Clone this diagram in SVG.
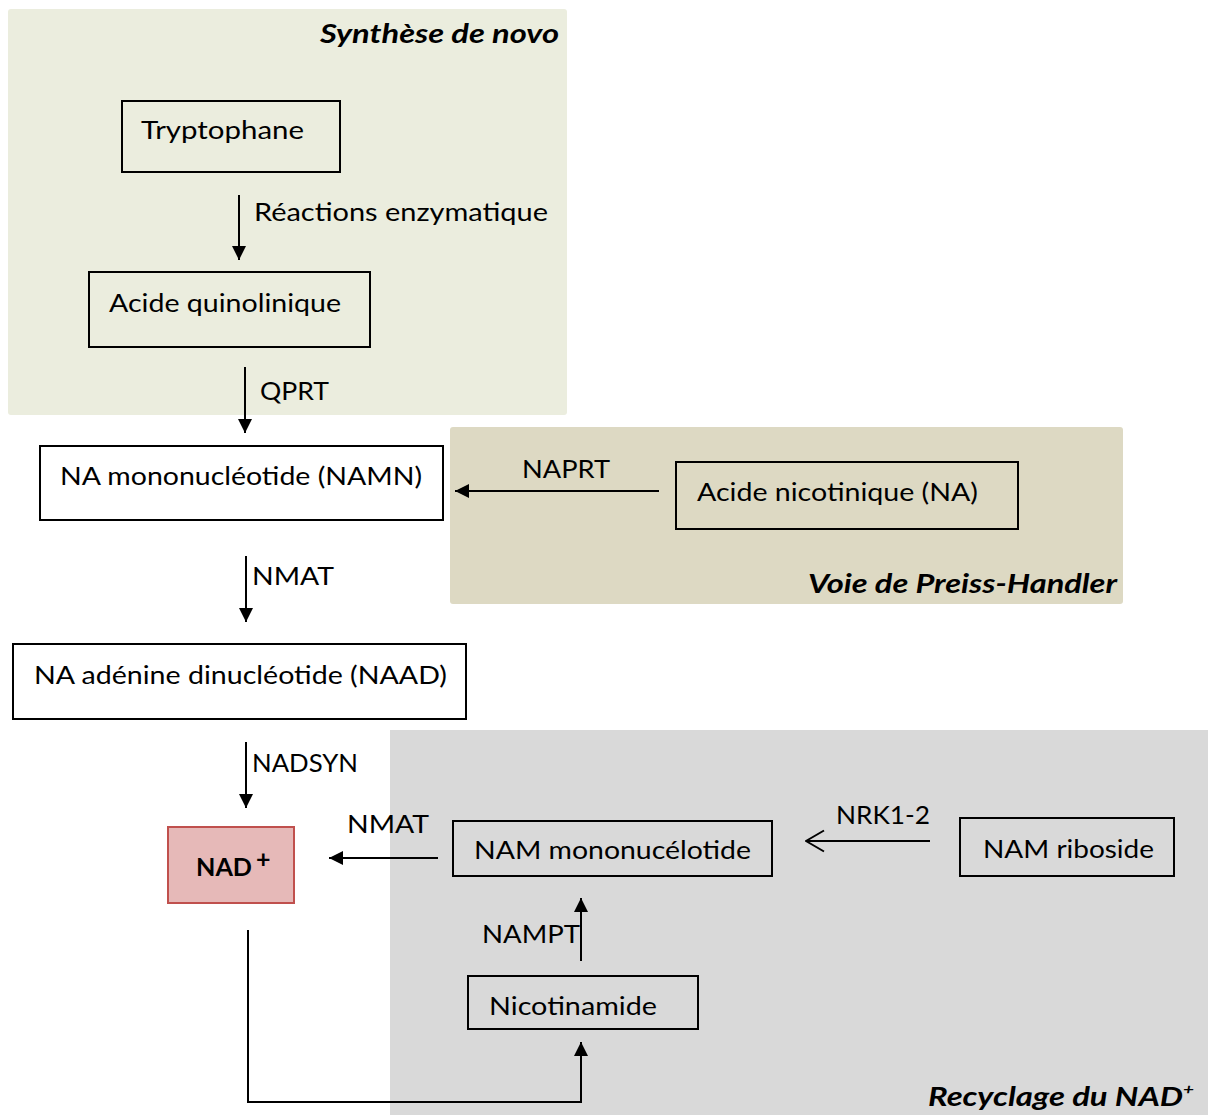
<svg xmlns="http://www.w3.org/2000/svg" width="1208" height="1115" viewBox="0 0 1208 1115">
<style>
text{font-family:Lato,"Open Sans","Liberation Sans",sans-serif;font-size:25px;fill:#000}
.title{font-weight:bold;font-style:italic;font-size:26px}
.box{fill:none;stroke:#000;stroke-width:2}
.conn{stroke:#000;stroke-width:2;fill:none}
</style>
<defs>
<marker id="tri" viewBox="0 0 10 10" refX="10" refY="5" markerWidth="17" markerHeight="14" markerUnits="userSpaceOnUse" orient="auto"><path d="M0,0 L10,5 L0,10 z" fill="#000"/></marker>
<marker id="open" viewBox="0 0 20 24" refX="19" refY="12" markerWidth="20" markerHeight="24" markerUnits="userSpaceOnUse" orient="auto"><path d="M1,1.5 L19,12 L1,22.5" fill="none" stroke="#000" stroke-width="2"/></marker>
</defs>

<g id="panels">
<rect id="panel-denovo" x="8" y="9" width="559" height="406" rx="3" fill="#ebedde"/>
<rect id="panel-preiss" x="450" y="427" width="673" height="177" rx="3" fill="#ddd9c3"/>
<rect id="panel-recyclage" x="390" y="730" width="818" height="385" fill="#d9d9d9"/>
<text class="title" x="559" y="43" text-anchor="end" textLength="239" lengthAdjust="spacingAndGlyphs">Synthèse de novo</text>
<text class="title" x="1117" y="593" text-anchor="end" textLength="309" lengthAdjust="spacingAndGlyphs">Voie de Preiss-Handler</text>
<text class="title" x="928" y="1106" textLength="266" lengthAdjust="spacingAndGlyphs">Recyclage du NAD<tspan font-size="15" dy="-11">+</tspan></text>
</g>

<g id="connectors">
<line class="conn" x1="239" y1="195" x2="239" y2="260" marker-end="url(#tri)"/>
<text x="254" y="221" textLength="294" lengthAdjust="spacingAndGlyphs">Réactions enzymatique</text>
<line class="conn" x1="245" y1="367" x2="245" y2="433" marker-end="url(#tri)"/>
<text x="260" y="400" textLength="69" lengthAdjust="spacingAndGlyphs">QPRT</text>
<line class="conn" x1="659" y1="491" x2="455" y2="491" marker-end="url(#tri)"/>
<text x="522" y="478" textLength="88" lengthAdjust="spacingAndGlyphs">NAPRT</text>
<line class="conn" x1="246" y1="556" x2="246" y2="622" marker-end="url(#tri)"/>
<text x="252" y="585" textLength="82" lengthAdjust="spacingAndGlyphs">NMAT</text>
<line class="conn" x1="246" y1="742" x2="246" y2="808" marker-end="url(#tri)"/>
<text x="252" y="772" textLength="106" lengthAdjust="spacingAndGlyphs">NADSYN</text>
<line class="conn" x1="438" y1="858" x2="329" y2="858" marker-end="url(#tri)"/>
<text x="347" y="833" textLength="82" lengthAdjust="spacingAndGlyphs">NMAT</text>
<line class="conn" x1="930" y1="841" x2="806" y2="841" marker-end="url(#open)"/>
<text x="836" y="824" textLength="94" lengthAdjust="spacingAndGlyphs">NRK1-2</text>
<line class="conn" x1="581" y1="961" x2="581" y2="898" marker-end="url(#tri)"/>
<text x="482" y="943" textLength="98" lengthAdjust="spacingAndGlyphs">NAMPT</text>
<polyline class="conn" points="248,930 248,1102 581,1102 581,1042" marker-end="url(#tri)"/>
</g>

<g id="node-tryptophane">
<rect class="box" x="122" y="101" width="218" height="71"/>
<text x="141" y="139" textLength="163" lengthAdjust="spacingAndGlyphs">Tryptophane</text>
</g>
<g id="node-acide-quinolinique">
<rect class="box" x="89" y="272" width="281" height="75"/>
<text x="109" y="312" textLength="232" lengthAdjust="spacingAndGlyphs">Acide quinolinique</text>
</g>
<g id="node-namn">
<rect class="box" x="40" y="446" width="403" height="74"/>
<text x="60" y="485" textLength="362" lengthAdjust="spacingAndGlyphs">NA mononucléotide (NAMN)</text>
</g>
<g id="node-acide-nicotinique">
<rect class="box" x="676" y="462" width="342" height="67"/>
<text x="697" y="501" textLength="281" lengthAdjust="spacingAndGlyphs">Acide nicotinique (NA)</text>
</g>
<g id="node-naad">
<rect class="box" x="13" y="644" width="453" height="75"/>
<text x="34" y="684" textLength="413" lengthAdjust="spacingAndGlyphs">NA adénine dinucléotide (NAAD)</text>
</g>
<g id="node-nad">
<rect x="168" y="827" width="126" height="76" fill="#e6b9b8" stroke="#c0504d" stroke-width="2"/>
<text x="196" y="876" font-weight="bold" font-size="26" textLength="56" lengthAdjust="spacingAndGlyphs">NAD</text>
<text x="256" y="868" font-weight="bold" font-size="16">+</text>
</g>
<g id="node-nam-mononucelotide">
<rect class="box" x="453" y="821" width="319" height="55"/>
<text x="474" y="859" textLength="277" lengthAdjust="spacingAndGlyphs">NAM mononucélotide</text>
</g>
<g id="node-nam-riboside">
<rect class="box" x="960" y="818" width="214" height="58"/>
<text x="983" y="858" textLength="171" lengthAdjust="spacingAndGlyphs">NAM riboside</text>
</g>
<g id="node-nicotinamide">
<rect class="box" x="468" y="976" width="230" height="53"/>
<text x="489" y="1015" textLength="168" lengthAdjust="spacingAndGlyphs">Nicotinamide</text>
</g>
</svg>
